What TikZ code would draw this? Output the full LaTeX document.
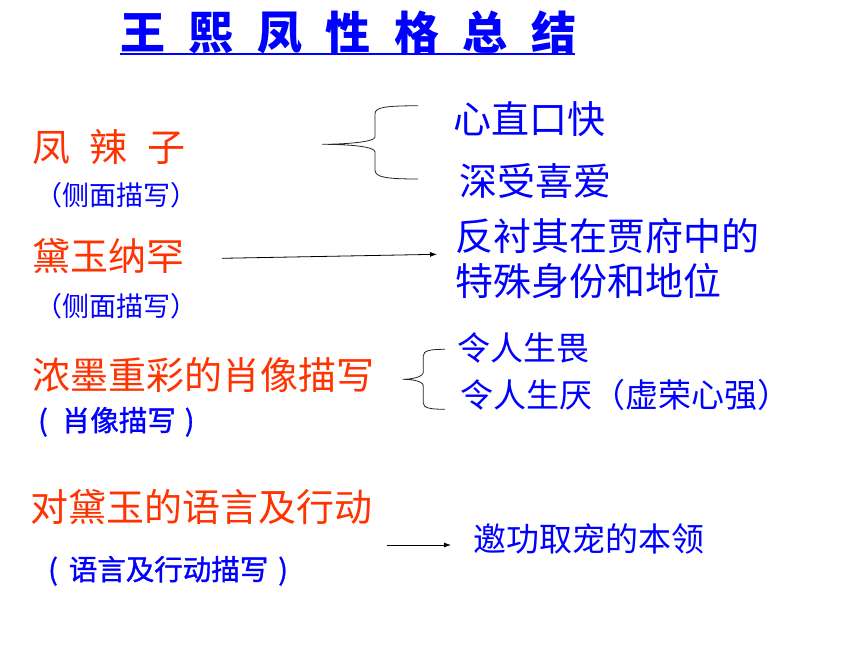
\documentclass[tikz,border=0pt]{standalone}
\usepackage{fontspec}
\usetikzlibrary{arrows.meta}
\newfontfamily\cjk{Noto Sans CJK SC}
\newfontfamily\cjksans{Noto Sans CJK SC}[FakeBold=1.2]
\definecolor{myred}{RGB}{255,51,0}
\definecolor{myblue}{RGB}{0,0,255}
\tikzset{
  txt/.style={inner sep=0pt, anchor=base west},
  redtxt/.style={txt, text=myred, font=\cjk\fontsize{38}{40}\selectfont},
  bluebig/.style={txt, text=myblue, font=\cjk\fontsize{38}{40}\selectfont},
  bluemid/.style={txt, text=myblue, font=\cjk\fontsize{33}{36}\selectfont},
  bluesmall/.style={txt, text=myblue, font=\cjk\fontsize{27}{30}\selectfont},
  bluesans/.style={txt, text=myblue, font=\cjksans\fontsize{28.5}{31}\selectfont},
  titletxt/.style={txt, text=myblue, font=\cjk\bfseries\fontsize{45}{48}\selectfont},
  bracepath/.style={draw=black!85, line width=0.8pt},
  arrowline/.style={draw=black, line width=0.8pt, -{Latex[length=7pt,width=5pt]}}
}
\begin{document}
\begin{tikzpicture}[x=1pt,y=-1pt]
\useasboundingbox[fill=white] (0,0) rectangle (860,645);
% title
\node[titletxt] (title) at (120,49) {王\hspace{23.5pt}熙\hspace{23.5pt}凤\hspace{23.5pt}性\hspace{23.5pt}格\hspace{23.5pt}总\hspace{23.5pt}结};
\coordinate (ulA) at (120,54);
\coordinate (ulB) at (575,54);
\draw[myblue, line width=2pt] (ulA) -- (ulB);
% left column
\node[redtxt] (l1) at (32,161) {凤\hspace{19.5pt}辣\hspace{19.5pt}子};
\node[bluesmall] (l1s) at (35,205) {（侧面描写）};
\node[redtxt] (l2) at (32,270) {黛玉纳罕};
\node[bluesmall] (l2s) at (35,316) {（侧面描写）};
\node[redtxt] (l3) at (32,389) {浓墨重彩的肖像描写};
\node[bluesans] (l3s) at (38,431) {(\hspace{14pt}肖像描写\hspace{9pt})};
\node[redtxt] (l4) at (30,521) {对黛玉的语言及行动};
\node[bluesans] (l4s) at (48,580) {(\hspace{11pt}语言及行动描写\hspace{10pt})};
% right column
\node[bluebig] (r1a) at (453,133) {心直口快};
\node[bluebig] (r1b) at (459,195) {深受喜爱};
\node[bluebig] (r2a) at (455,250) {反衬其在贾府中的};
\node[bluebig] (r2b) at (455,295) {特殊身份和地位};
\node[bluemid] (r3a) at (457,360) {令人生畏};
\node[bluemid] (r3b) at (460,407) {令人生厌（虚荣心强）};
\node[bluemid] (r4) at (473,551) {邀功取宠的本领};
% brace 1
\coordinate (b1tip) at (322,144.3);
\coordinate (b1top) at (418,105.7);
\coordinate (b1bot) at (418,179);
\draw[bracepath] (b1top) .. controls (385,106) and (375,107) .. (375,114)
  -- (375,137) .. controls (375,142) and (345,144.3) .. (b1tip)
  .. controls (345,144.3) and (375,146) .. (375,152)
  -- (375,170) .. controls (375,177) and (385,179) .. (b1bot);
% brace 2
\coordinate (b2tip) at (402.7,379.3);
\coordinate (b2top) at (445,349.3);
\coordinate (b2bot) at (445,409.3);
\draw[bracepath] (b2top) .. controls (430,349.3) and (423.3,350.5) .. (423.3,356)
  -- (423.3,372) .. controls (423.3,377) and (412,379.3) .. (b2tip)
  .. controls (412,379.3) and (423.3,381) .. (423.3,386)
  -- (423.3,403) .. controls (423.3,408) and (430,409.3) .. (b2bot);
% arrows
\coordinate (a1s) at (222,258.3);
\coordinate (a1e) at (437,254.3);
\draw[arrowline] (a1s) -- (a1e);
\coordinate (a2s) at (386.7,545);
\coordinate (a2e) at (451,545);
\draw[arrowline] (a2s) -- (a2e);
\end{tikzpicture}
\end{document}
